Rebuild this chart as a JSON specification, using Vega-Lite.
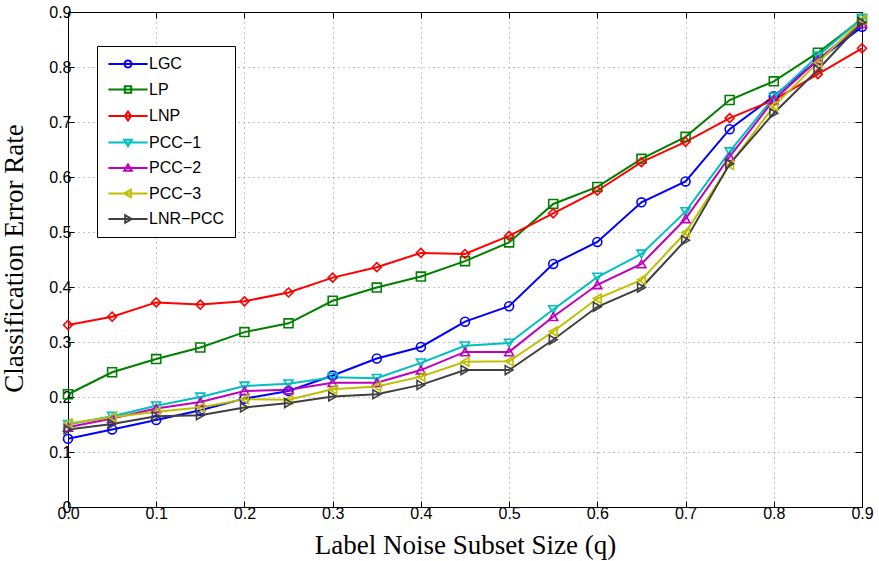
{
  "$schema": "https://vega.github.io/schema/vega-lite/v6.json",
  "width": 794,
  "height": 495,
  "autosize": {"type": "none"},
  "padding": {"left": 68, "top": 12, "right": 17, "bottom": 54},
  "background": "white",
  "config": {
    "view": {"stroke": "black", "strokeWidth": 1},
    "font": "Liberation Sans"
  },
  "datasets": {
    "err": [
      {"q": 0.00, "LGC": 0.124, "LP": 0.205, "LNP": 0.331, "PCC−1": 0.150, "PCC−2": 0.145, "PCC−3": 0.152, "LNR−PCC": 0.141},
      {"q": 0.05, "LGC": 0.141, "LP": 0.245, "LNP": 0.346, "PCC−1": 0.165, "PCC−2": 0.161, "PCC−3": 0.163, "LNR−PCC": 0.151},
      {"q": 0.10, "LGC": 0.158, "LP": 0.269, "LNP": 0.372, "PCC−1": 0.184, "PCC−2": 0.179, "PCC−3": 0.173, "LNR−PCC": 0.165},
      {"q": 0.15, "LGC": 0.176, "LP": 0.290, "LNP": 0.368, "PCC−1": 0.200, "PCC−2": 0.191, "PCC−3": 0.181, "LNR−PCC": 0.167},
      {"q": 0.20, "LGC": 0.197, "LP": 0.318, "LNP": 0.374, "PCC−1": 0.220, "PCC−2": 0.211, "PCC−3": 0.196, "LNR−PCC": 0.181},
      {"q": 0.25, "LGC": 0.211, "LP": 0.334, "LNP": 0.390, "PCC−1": 0.224, "PCC−2": 0.213, "PCC−3": 0.195, "LNR−PCC": 0.189},
      {"q": 0.30, "LGC": 0.239, "LP": 0.375, "LNP": 0.417, "PCC−1": 0.236, "PCC−2": 0.226, "PCC−3": 0.214, "LNR−PCC": 0.201},
      {"q": 0.35, "LGC": 0.270, "LP": 0.399, "LNP": 0.436, "PCC−1": 0.234, "PCC−2": 0.226, "PCC−3": 0.219, "LNR−PCC": 0.205},
      {"q": 0.40, "LGC": 0.291, "LP": 0.419, "LNP": 0.462, "PCC−1": 0.262, "PCC−2": 0.249, "PCC−3": 0.237, "LNR−PCC": 0.222},
      {"q": 0.45, "LGC": 0.337, "LP": 0.447, "LNP": 0.460, "PCC−1": 0.293, "PCC−2": 0.282, "PCC−3": 0.264, "LNR−PCC": 0.249},
      {"q": 0.50, "LGC": 0.365, "LP": 0.481, "LNP": 0.493, "PCC−1": 0.298, "PCC−2": 0.282, "PCC−3": 0.265, "LNR−PCC": 0.249},
      {"q": 0.55, "LGC": 0.442, "LP": 0.551, "LNP": 0.534, "PCC−1": 0.359, "PCC−2": 0.346, "PCC−3": 0.319, "LNR−PCC": 0.304},
      {"q": 0.60, "LGC": 0.482, "LP": 0.582, "LNP": 0.575, "PCC−1": 0.418, "PCC−2": 0.404, "PCC−3": 0.379, "LNR−PCC": 0.364},
      {"q": 0.65, "LGC": 0.554, "LP": 0.633, "LNP": 0.627, "PCC−1": 0.460, "PCC−2": 0.442, "PCC−3": 0.413, "LNR−PCC": 0.399},
      {"q": 0.70, "LGC": 0.592, "LP": 0.673, "LNP": 0.664, "PCC−1": 0.537, "PCC−2": 0.524, "PCC−3": 0.499, "LNR−PCC": 0.485},
      {"q": 0.75, "LGC": 0.687, "LP": 0.740, "LNP": 0.707, "PCC−1": 0.646, "PCC−2": 0.637, "PCC−3": 0.622, "LNR−PCC": 0.624},
      {"q": 0.80, "LGC": 0.747, "LP": 0.774, "LNP": 0.740, "PCC−1": 0.745, "PCC−2": 0.740, "PCC−3": 0.729, "LNR−PCC": 0.716},
      {"q": 0.85, "LGC": 0.812, "LP": 0.826, "LNP": 0.787, "PCC−1": 0.820, "PCC−2": 0.813, "PCC−3": 0.808, "LNR−PCC": 0.795},
      {"q": 0.90, "LGC": 0.873, "LP": 0.887, "LNP": 0.834, "PCC−1": 0.889, "PCC−2": 0.879, "PCC−3": 0.886, "LNR−PCC": 0.881}
    ]
  },
  "data": {"name": "err"},
  "transform": [
    {"fold": ["LGC", "LP", "LNP", "PCC−1", "PCC−2", "PCC−3", "LNR−PCC"], "as": ["method", "rate"]}
  ],
  "resolve": {
    "axis": {"x": "independent", "y": "independent"},
    "scale": {"color": "independent", "shape": "independent"}
  },
  "layer": [
    {
      "mark": {"type": "line", "strokeWidth": 2},
      "encoding": {
        "x": {
          "field": "q", "type": "quantitative",
          "scale": {"domain": [0, 0.9], "nice": false, "zero": false},
          "axis": {
            "values": [0, 0.1, 0.2, 0.3, 0.4, 0.5, 0.6, 0.7, 0.8, 0.9],
            "format": ".1f",
            "title": "Label Noise Subset Size (q)",
            "titleFont": "Liberation Serif", "titleFontSize": 27, "titleFontWeight": "normal", "titleColor": "black",
            "titleBaseline": "alphabetic", "titleY": 46,
            "labelFont": "Liberation Sans", "labelFontSize": 16, "labelColor": "black", "labelPadding": 4,
            "labelFlush": false,
            "domainColor": "black", "tickColor": "black", "tickSize": -6,
            "grid": true, "gridColor": "#888888", "gridDash": [1, 4], "gridWidth": 1, "gridOpacity": 1
          }
        },
        "y": {
          "field": "rate", "type": "quantitative",
          "scale": {"domain": [0, 0.9], "nice": false},
          "axis": {
            "values": [0, 0.1, 0.2, 0.3, 0.4, 0.5, 0.6, 0.7, 0.8, 0.9],
            "labelExpr": "datum.value == 0 ? '0' : format(datum.value, '.1f')",
            "title": "Classification Error Rate",
            "titleFont": "Liberation Serif", "titleFontSize": 27, "titleFontWeight": "normal", "titleColor": "black",
            "titleBaseline": "alphabetic", "titleAngle": 270, "titleX": -46, "titleY": 246,
            "labelFont": "Liberation Sans", "labelFontSize": 16, "labelColor": "black", "labelPadding": 3,
            "labelFlush": false,
            "domainColor": "black", "tickColor": "black", "tickSize": -6,
            "grid": true, "gridColor": "#888888", "gridDash": [1, 4], "gridWidth": 1, "gridOpacity": 1
          }
        },
        "color": {
          "field": "method", "type": "nominal",
          "scale": {
            "domain": ["LGC", "LP", "LNP", "PCC−1", "PCC−2", "PCC−3", "LNR−PCC"],
            "range": ["#0000ff", "#008000", "#ff0000", "#00bfbf", "#bf00bf", "#bfbf00", "#404040"]
          },
          "legend": null
        }
      }
    },
    {
      "mark": {"type": "point", "filled": false, "strokeWidth": 1.6, "size": 80, "opacity": 1},
      "encoding": {
        "x": {
          "field": "q", "type": "quantitative",
          "axis": {"orient": "top", "values": [0, 0.1, 0.2, 0.3, 0.4, 0.5, 0.6, 0.7, 0.8, 0.9], "labels": false, "title": null, "grid": false, "domainColor": "black", "tickColor": "black", "tickSize": -6}
        },
        "y": {
          "field": "rate", "type": "quantitative",
          "axis": {"orient": "right", "values": [0, 0.1, 0.2, 0.3, 0.4, 0.5, 0.6, 0.7, 0.8, 0.9], "labels": false, "title": null, "grid": false, "domainColor": "black", "tickColor": "black", "tickSize": -7}
        },
        "color": {
          "field": "method", "type": "nominal",
          "scale": {
            "domain": ["LGC", "LP", "LNP", "PCC−1", "PCC−2", "PCC−3", "LNR−PCC"],
            "range": ["#0000ff", "#008000", "#ff0000", "#00bfbf", "#bf00bf", "#bfbf00", "#404040"]
          },
          "legend": null
        },
        "shape": {
          "field": "method", "type": "nominal",
          "scale": {
            "domain": ["LGC", "LP", "LNP", "PCC−1", "PCC−2", "PCC−3", "LNR−PCC"],
            "range": ["circle", "square", "diamond", "triangle-down", "triangle-up", "triangle-left", "triangle-right"]
          },
          "legend": null
        }
      }
    },
    {
      "mark": {"type": "point", "filled": false, "strokeWidth": 2, "size": 64, "opacity": 0},
      "encoding": {
        "x": {"field": "q", "type": "quantitative", "axis": null},
        "y": {"field": "rate", "type": "quantitative", "axis": null},
        "color": {
          "field": "method", "type": "nominal",
          "scale": {
            "domain": ["LGC", "LP", "LNP", "PCC−1", "PCC−2", "PCC−3", "LNR−PCC"],
            "range": ["#0000ff", "#008000", "#ff0000", "#00bfbf", "#bf00bf", "#bfbf00", "#404040"]
          },
          "legend": {
            "title": null,
            "orient": "none", "legendX": 29, "legendY": 34,
            "strokeColor": "black", "fillColor": "white", "padding": 10,
            "symbolSize": 64, "symbolStrokeWidth": 2, "symbolOffset": 13, "symbolOpacity": 1,
            "labelOffset": 13, "labelFontSize": 16, "labelFont": "Liberation Sans", "labelColor": "black",
            "labelExpr": "datum.label + '\u00a0\u00a0\u00a0\u00a0\u00a0\u00a0\u00a0\u00a0'",
            "rowPadding": 9.5
          }
        },
        "shape": {
          "field": "method", "type": "nominal",
          "scale": {
            "domain": ["LGC", "LP", "LNP", "PCC−1", "PCC−2", "PCC−3", "LNR−PCC"],
            "range": [
              "M-4.9,0H4.9M-0.875,0A0.875,0.875,0,1,0,0.875,0A0.875,0.875,0,1,0,-0.875,0",
              "M-4.9,0H4.9M-0.8,-0.8H0.8V0.8H-0.8Z",
              "M-4.9,0H4.9M0,-1.1L0.75,0L0,1.1L-0.75,0Z",
              "M-4.9,0H4.9M-0.95,-0.7H0.95L0,0.9Z",
              "M-4.9,0H4.9M-0.95,0.7H0.95L0,-0.9Z",
              "M-4.9,0H4.9M0.7,-0.95V0.95L-0.9,0Z",
              "M-4.9,0H4.9M-0.7,-0.95V0.95L0.9,0Z"
            ]
          },
          "legend": {
            "title": null,
            "orient": "none", "legendX": 29, "legendY": 34,
            "strokeColor": "black", "fillColor": "white", "padding": 10,
            "symbolSize": 64, "symbolStrokeWidth": 2, "symbolOffset": 13, "symbolOpacity": 1,
            "labelOffset": 13, "labelFontSize": 16, "labelFont": "Liberation Sans", "labelColor": "black",
            "labelExpr": "datum.label + '\u00a0\u00a0\u00a0\u00a0\u00a0\u00a0\u00a0\u00a0'",
            "rowPadding": 9.5
          }
        }
      }
    }
  ]
}
